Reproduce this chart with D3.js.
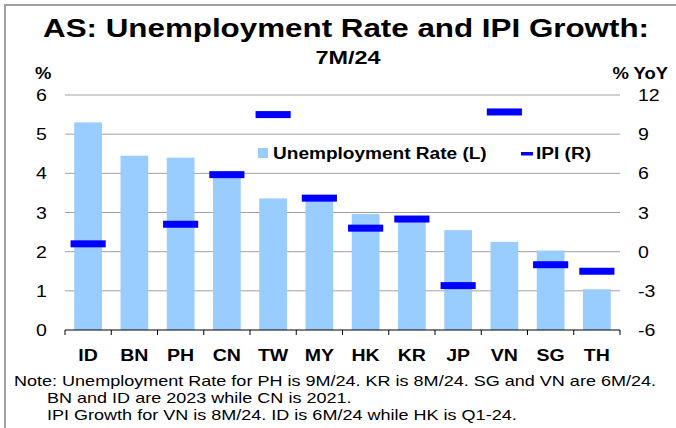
<!DOCTYPE html>
<html>
<head>
  <meta charset="UTF-8">
  <style>
    body { margin: 0; background: #fff; }
    svg { display: block; font-family: "Liberation Sans", Arial, sans-serif; }
    .grid line { stroke: #a0a0a0; stroke-width: 1px; }
    .tick-lbl { font-size: 16px; fill: #000; }
    .cat { font-size: 16px; font-weight: bold; }
    .note { font-size: 15px; }
  </style>
</head>
<body>
  <svg width="676" height="428"></svg>
  <script src="https://d3js.org/d3.v7.min.js"></script>
  <script>
    // data
    const countries = ['ID', 'BN', 'PH', 'CN', 'TW', 'MY', 'HK', 'KR', 'JP', 'VN', 'SG', 'TH'];
    const unemployment = [5.3, 4.45, 4.4, 3.95, 3.36, 3.3, 2.96, 2.8, 2.55, 2.25, 2.03, 1.04];
    const ipi = [0.6, null, 2.1, 5.9, 10.5, 4.1, 1.8, 2.5, -2.6, 10.7, -1.0, -1.5];
    const leftTicks = [0, 1, 2, 3, 4, 5, 6];
    const rightTicks = [-6, -3, 0, 3, 6, 9, 12];

    const svg = d3.select('svg');
    const m = { left: 65, right: 620, top: 95, bottom: 330 };

    // the original text is a little wider than plain Arial
    function stretch(sel, k) {
      sel.each(function () {
        const w = this.getComputedTextLength();
        d3.select(this).attr('textLength', w * k).attr('lengthAdjust', 'spacingAndGlyphs');
      });
    }
    function fitTo(sel, w) {
      sel.attr('textLength', w).attr('lengthAdjust', 'spacingAndGlyphs');
    }

    // frame
    svg.append('path')
      .attr('d', 'M5,428 L5,5 L676,5')
      .attr('fill', 'none')
      .attr('stroke', '#a0a0a0')
      .attr('stroke-width', 2);

    const x = d3.scaleBand().domain(countries).range([m.left, m.right]).paddingInner(0.4).paddingOuter(0.2);
    const yL = d3.scaleLinear().domain([0, 6]).range([m.bottom, m.top]);
    const yR = d3.scaleLinear().domain([-6, 12]).range([m.bottom, m.top]);

    // gridlines
    svg.append('g').attr('class', 'grid')
      .selectAll('line').data(leftTicks.filter(d => d > 0)).enter().append('line')
      .attr('x1', m.left).attr('x2', m.right)
      .attr('y1', d => yL(d)).attr('y2', d => yL(d));

    // bars
    svg.append('g').selectAll('rect').data(countries).enter().append('rect')
      .attr('x', d => x(d))
      .attr('width', x.bandwidth())
      .attr('y', (d, i) => yL(unemployment[i]))
      .attr('height', (d, i) => yL(0) - yL(unemployment[i]))
      .attr('fill', '#99ccff');

    // IPI markers
    const mw = x.step() * 0.76;
    svg.append('g').selectAll('rect').data(countries.filter((d, i) => ipi[i] !== null)).enter().append('rect')
      .attr('x', d => x(d) + x.bandwidth() / 2 - mw / 2)
      .attr('width', mw)
      .attr('y', d => yR(ipi[countries.indexOf(d)]) - 3.5)
      .attr('height', 7)
      .attr('fill', '#0000ff');

    // bottom axis line with category separators
    const bx = d3.scaleLinear().domain([0, countries.length]).range([m.left, m.right]);
    svg.append('line')
      .attr('x1', m.left).attr('x2', m.right)
      .attr('y1', m.bottom).attr('y2', m.bottom)
      .attr('stroke', '#000').attr('stroke-width', 1);
    svg.append('g').selectAll('line').data(d3.range(countries.length + 1)).enter().append('line')
      .attr('x1', d => bx(d)).attr('x2', d => bx(d))
      .attr('y1', m.bottom).attr('y2', m.bottom + 5)
      .attr('stroke', '#000');

    // category labels
    svg.append('g').selectAll('text').data(countries).enter().append('text')
      .attr('class', 'cat')
      .attr('x', d => x(d) + x.bandwidth() / 2)
      .attr('y', 361)
      .attr('text-anchor', 'middle')
      .text(d => d)
      .call(stretch, 1.22);

    // left tick labels
    svg.append('g').selectAll('text').data(leftTicks).enter().append('text')
      .attr('class', 'tick-lbl')
      .attr('x', 47)
      .attr('y', d => yL(d) + 6)
      .attr('text-anchor', 'end')
      .text(d => d)
      .call(stretch, 1.22);

    // right tick labels
    svg.append('g').selectAll('text').data(rightTicks).enter().append('text')
      .attr('class', 'tick-lbl')
      .attr('x', 638)
      .attr('y', d => yR(d) + 6)
      .text(d => d)
      .call(stretch, 1.22);

    // titles
    svg.append('text').attr('x', 346).attr('y', 37).attr('text-anchor', 'middle')
      .style('font-size', '25px').style('font-weight', 'bold')
      .text('AS: Unemployment Rate and IPI Growth:')
      .call(fitTo, 606);
    svg.append('text').attr('x', 348).attr('y', 64).attr('text-anchor', 'middle')
      .style('font-size', '18px').style('font-weight', 'bold')
      .text('7M/24')
      .call(stretch, 1.3);
    svg.append('text').attr('x', 35).attr('y', 79)
      .style('font-size', '16px').style('font-weight', 'bold').text('%')
      .call(stretch, 1.15);
    svg.append('text').attr('x', 668).attr('y', 79).attr('text-anchor', 'end')
      .style('font-size', '16px').style('font-weight', 'bold').text('% YoY')
      .call(stretch, 1.15);

    // legend
    const lg = svg.append('g').style('font-size', '16px').style('font-weight', 'bold');
    lg.append('rect').attr('x', 258).attr('y', 148).attr('width', 10).attr('height', 10).attr('fill', '#99ccff');
    lg.append('text').attr('x', 273).attr('y', 159).text('Unemployment Rate (L)').call(stretch, 1.19);
    lg.append('rect').attr('x', 521).attr('y', 152).attr('width', 12).attr('height', 3.5).attr('fill', '#0000ff');
    lg.append('text').attr('x', 536).attr('y', 159).text('IPI (R)').call(stretch, 1.19);

    // notes
    const notes = [
      ['Note: Unemployment Rate for PH is 9M/24. KR is 8M/24. SG and VN are 6M/24.', 14, 386],
      ['BN and ID are 2023 while CN is 2021.', 47, 403],
      ['IPI Growth for VN is 8M/24. ID is 6M/24 while HK is Q1-24.', 47, 420]
    ];
    const noteText = svg.append('g').selectAll('text').data(notes).enter().append('text')
      .attr('class', 'note')
      .attr('x', d => d[1]).attr('y', d => d[2])
      .text(d => d[0]);
    const k = 642 / noteText.node().getComputedTextLength();
    noteText.call(stretch, k);
  </script>
</body>
</html>
